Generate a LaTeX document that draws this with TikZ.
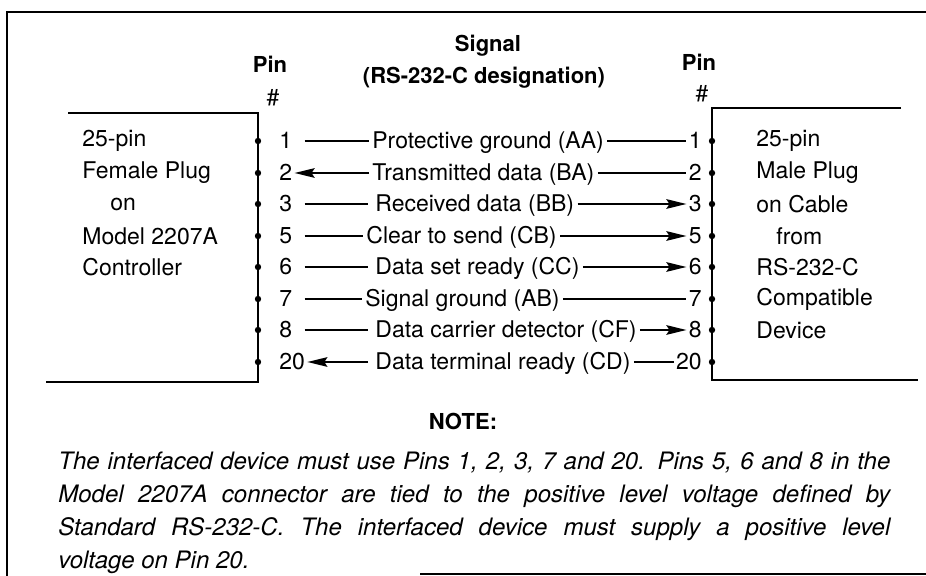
\documentclass[tikz,border=0pt]{standalone}
\usepackage{fontspec}
\setmainfont{TeX Gyre Heros}
\usetikzlibrary{arrows.meta,positioning}
\newcommand{\sigsize}{\fontsize{11.5}{13}\selectfont}
\newcommand{\headsize}{\fontsize{11}{13}\selectfont\bfseries}
\newcommand{\notesize}{\fontsize{12}{16.5}\selectfont\itshape}

\begin{document}
\begin{tikzpicture}[x=0.5pt, y=-0.5pt,
    every node/.style={font=\sigsize, inner sep=0pt},
    frame/.style={line width=1.4pt},
    boxline/.style={line width=1.2pt},
    wire/.style={line width=0.9pt},
    arr/.style={wire, -{Stealth[length=10pt, width=4.8pt, inset=1.5pt]}},
    pinno/.style={inner xsep=1pt, text height=8pt, text depth=0.6pt},
    sig/.style={anchor=west, inner xsep=1.5pt, text height=8pt, text depth=0.6pt},
    dot/.style={circle, fill, minimum size=3.2pt},
    boxtext/.style={anchor=west},
    head/.style={font=\headsize}]
  \useasboundingbox (0,0) rectangle (926,576);
  % Outer frame, open on the right
  \draw[frame] (926,12) -- (7,12) -- (7,576);
  \draw[frame] (420,574) -- (926,574);
  % Connector outlines
  \draw[boxline] (68,113) -- (258,113) -- (258,382) -- (46,382);
  \draw[boxline] (901,108) -- (712,108) -- (712,380) -- (918,380);
  % Column heads
  \node[head] (pinL) at (270,64) {Pin};
  \node (hashL) at (273,98) {\#};
  \node[head] (pinR) at (699,62) {Pin};
  \node (hashR) at (702,94) {\#};
  \node[head] (sigT) at (488,46) {Signal};
  \node[head] (sigD) at (484,78) {(RS-232-C designation)};
  % Female plug text
  \node[boxtext] (fp1) at (82,141) {25-pin};
  \node[boxtext] (fp2) at (82,173) {Female Plug};
  \node[boxtext] (fp3) at (110,204) {on};
  \node[boxtext] (fp4) at (82,236) {Model 2207A};
  \node[boxtext] (fp5) at (82,267) {Controller};
  % Male plug text
  \node[boxtext] (mp1) at (756,141) {25-pin};
  \node[boxtext] (mp2) at (756,173) {Male Plug};
  \node[boxtext] (mp3) at (756,204) {on Cable};
  \node[boxtext] (mp4) at (776,236) {from};
  \node[boxtext] (mp5) at (756,267) {RS-232-C};
  \node[boxtext] (mp6) at (756,299) {Compatible};
  \node[boxtext] (mp7) at (756,330) {Device};
  % Pin dots
  \node[dot] (dl1) at (258,141) {};  \node[dot] (dr1) at (712,141) {};
  \node[dot] (dl2) at (258,173) {};  \node[dot] (dr2) at (712,173) {};
  \node[dot] (dl3) at (258,204) {};  \node[dot] (dr3) at (712,204) {};
  \node[dot] (dl5) at (258,236) {};  \node[dot] (dr5) at (712,236) {};
  \node[dot] (dl6) at (258,267) {};  \node[dot] (dr6) at (712,267) {};
  \node[dot] (dl7) at (258,299) {};  \node[dot] (dr7) at (712,299) {};
  \node[dot] (dl8) at (258,330) {};  \node[dot] (dr8) at (712,330) {};
  \node[dot] (dl20) at (258,362) {}; \node[dot] (dr20) at (712,362) {};
  % Pin numbers
  \node[pinno, anchor=west] (l1) at (277,141) {1};
  \node[pinno, anchor=west] (l2) at (277,173) {2};
  \node[pinno, anchor=west] (l3) at (277,204) {3};
  \node[pinno, anchor=west] (l5) at (277,236) {5};
  \node[pinno, anchor=west] (l6) at (277,267) {6};
  \node[pinno, anchor=west] (l7) at (277,299) {7};
  \node[pinno, anchor=west] (l8) at (277,330) {8};
  \node[pinno, anchor=west] (l20) at (277,362) {20};
  \node[pinno, anchor=east] (r1) at (704,141) {1};
  \node[pinno, anchor=east] (r2) at (704,173) {2};
  \node[pinno, anchor=east] (r3) at (704,204) {3};
  \node[pinno, anchor=east] (r5) at (704,236) {5};
  \node[pinno, anchor=east] (r6) at (704,267) {6};
  \node[pinno, anchor=east] (r7) at (704,299) {7};
  \node[pinno, anchor=east] (r8) at (704,330) {8};
  \node[pinno, anchor=east] (r20) at (704,362) {20};
  % Signals
  \node[sig] (s1) at (369,141) {Protective ground (AA)};
  \node[sig] (s2) at (369,173) {Transmitted data (BA)};
  \node[sig] (s3) at (372,204) {Received data (BB)};
  \node[sig] (s5) at (363,236) {Clear to send (CB)};
  \node[sig] (s6) at (372,267) {Data set ready (CC)};
  \node[sig] (s7) at (362,299) {Signal ground (AB)};
  \node[sig] (s8) at (372,330) {Data carrier detector (CF)};
  \node[sig] (s20) at (372,362) {Data terminal ready (CD)};
  % Wires
  \draw[wire, shorten <=5pt] (l1) -- (s1);
  \draw[wire] (s1) -- (r1);
  \draw[arr] (s2) -- (l2);
  \draw[wire] (s2) -- (r2);
  \draw[wire, shorten <=5pt, shorten >=2pt] (l3) -- (s3);
  \draw[arr] (s3) -- (r3);
  \draw[wire, shorten <=5pt] (l5) -- (s5);
  \draw[arr] (s5) -- (r5);
  \draw[wire, shorten <=5pt, shorten >=2pt] (l6) -- (s6);
  \draw[arr] (s6) -- (r6);
  \draw[wire, shorten <=5pt] (l7) -- (s7);
  \draw[wire] (s7) -- (r7);
  \draw[wire, shorten <=5pt, shorten >=2pt] (l8) -- (s8);
  \draw[arr] (s8) -- (r8);
  \draw[arr, shorten <=2pt] (s20) -- (l20);
  \draw[wire] (s20) -- (r20);
  % Note
  \node[head] (noteT) at (463,421) {NOTE:};
  \node[anchor=north west, text width=416pt, align=justify, font=\notesize] (noteB) at (58,452)
    {The interfaced device must use Pins 1, 2, 3, 7 and 20. Pins 5, 6 and 8 in the\linebreak
     Model 2207A connector are tied to the positive level voltage defined by\linebreak
     Standard RS-232-C. The interfaced device must supply a positive level\linebreak
     voltage on Pin 20.};
\end{tikzpicture}
\end{document}
